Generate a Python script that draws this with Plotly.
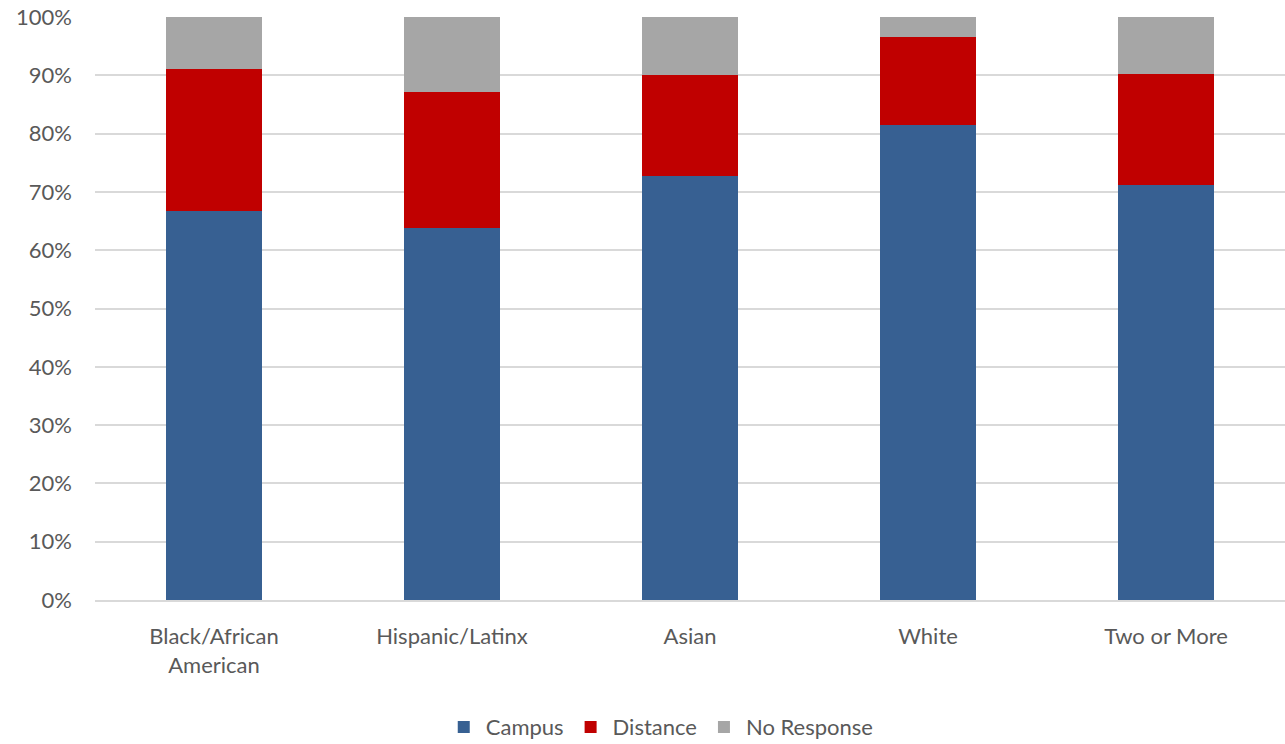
import plotly.graph_objects as go

categories = ["Black/African<br>American", "Hispanic/Latinx", "Asian", "White", "Two or More"]
campus = [0.667, 0.638, 0.727, 0.814, 0.712]
distance = [0.243, 0.233, 0.173, 0.151, 0.190]
no_response = [0.090, 0.129, 0.100, 0.035, 0.098]
y_ticks = [i / 10 for i in range(11)]
y_tick_labels = [f"{i * 10}%" for i in range(11)]

font_family = "Lato, 'Open Sans', sans-serif"
text_color = "#595959"

fig = go.Figure()
fig.add_trace(go.Bar(name="Campus", x=categories, y=campus, marker=dict(color="#376092", line=dict(width=0))))
fig.add_trace(go.Bar(name="Distance", x=categories, y=distance, marker=dict(color="#C00000", line=dict(width=0))))
fig.add_trace(go.Bar(name="No Response", x=categories, y=no_response, marker=dict(color="#A6A6A6", line=dict(width=0))))

fig.update_layout(
    barmode="stack",
    bargap=0.6,
    width=1285,
    height=744,
    margin=dict(l=95, r=0, t=17, b=144, autoexpand=False),
    paper_bgcolor="white",
    plot_bgcolor="white",
    font=dict(family=font_family, size=22, color=text_color),
    showlegend=True,
    legend=dict(
        orientation="h",
        x=0.475,
        xanchor="center",
        y=-0.218,
        yanchor="middle",
        font=dict(size=22, color=text_color),
        itemwidth=34,
        tracegroupgap=0,
        traceorder="normal",
    ),
    xaxis=dict(
        showgrid=False,
        showline=True,
        linecolor="#D9D9D9",
        linewidth=2,
        ticks="",
        automargin=False,
        ticklabelstandoff=16,
        tickfont=dict(size=22, color=text_color),
    ),
    yaxis=dict(
        range=[0, 1],
        tickvals=y_ticks,
        ticktext=y_tick_labels,
        showgrid=True,
        gridcolor="#D9D9D9",
        gridwidth=2,
        zeroline=False,
        showline=False,
        ticks="",
        automargin=False,
        ticklabelstandoff=22,
        tickfont=dict(size=22, color=text_color),
    ),
)

fig.write_html("out.html")
